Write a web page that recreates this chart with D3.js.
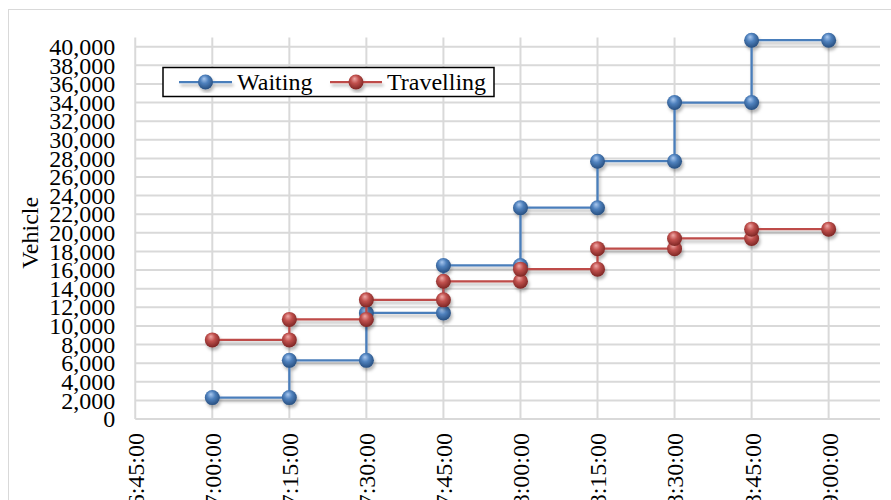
<!DOCTYPE html>
<html>
<head>
<meta charset="utf-8">
<script src="https://cdn.jsdelivr.net/npm/d3@7"></script>
<style>
  html, body { margin: 0; padding: 0; background: #fff; }
  svg { display: block; }
  text { font-family: "Liberation Serif", "Times New Roman", serif; fill: #000; }
</style>
</head>
<body>
<svg id="chart" width="891" height="500"></svg>
<script>
// Time slots (minutes after midnight) and their labels
const times = [420, 435, 450, 465, 480, 495, 510, 525];
const tickTimes = [405, 420, 435, 450, 465, 480, 495, 510, 525, 540];
const tickLabels = ["6:45:00", "7:00:00", "7:15:00", "7:30:00", "7:45:00",
                    "8:00:00", "8:15:00", "8:30:00", "8:45:00", "9:00:00"];
const endTime = 540;

// Cumulative vehicles per interval
const waiting    = [2300, 6300, 11400, 16500, 22700, 27700, 34000, 40700];
const travelling = [8500, 10700, 12800, 14800, 16100, 18300, 19400, 20400];

const yTicks = d3.range(0, 40001, 2000);

const svg = d3.select("#chart");

const x = d3.scaleLinear().domain([405, 550]).range([135.25, 880]);
const y = d3.scaleLinear().domain([0, 41000]).range([419, 37.4]);

// Outer chart border
svg.append("rect")
  .attr("x", 8.5).attr("y", 9.5).attr("width", 900).attr("height", 520)
  .attr("fill", "#fff").attr("stroke", "#d9d9d9").attr("stroke-width", 1);

const defs = svg.append("defs");

// Glossy sphere fills for the markers
function sphere(id, light, mid, dark) {
  const g = defs.append("radialGradient").attr("id", id)
    .attr("cx", "45%").attr("cy", "40%").attr("r", "60%")
    .attr("fx", "40%").attr("fy", "28%");
  g.append("stop").attr("offset", "0%").attr("stop-color", light);
  g.append("stop").attr("offset", "45%").attr("stop-color", mid);
  g.append("stop").attr("offset", "100%").attr("stop-color", dark);
}
sphere("ballBlue", "#a9c8ef", "#4f81bd", "#274f80");
sphere("ballRed", "#f0a9a7", "#c0504d", "#7e2624");

const shadow = defs.append("filter").attr("id", "shadow")
  .attr("x", "-20%").attr("y", "-20%").attr("width", "140%").attr("height", "140%");
shadow.append("feDropShadow").attr("dx", 1.5).attr("dy", 3)
  .attr("stdDeviation", 1.6).attr("flood-color", "#000").attr("flood-opacity", 0.28);

// Gridlines
const grid = svg.append("g").attr("stroke", "#d9d9d9").attr("stroke-width", 2);
grid.selectAll("line.h").data(yTicks).join("line")
  .attr("x1", x(405)).attr("x2", x(550))
  .attr("y1", d => y(d)).attr("y2", d => y(d));
grid.selectAll("line.v").data(tickTimes).join("line")
  .attr("x1", d => x(d)).attr("x2", d => x(d))
  .attr("y1", y(41000)).attr("y2", y(0));

// Y axis labels
const yAxis = d3.axisLeft(y).tickValues(yTicks).tickSize(0).tickPadding(20)
  .tickFormat(d3.format(","));
const yg = svg.append("g").attr("transform", `translate(${x(405)},0)`).call(yAxis);
yg.select(".domain").remove();
yg.selectAll("text").attr("font-size", 24)
  .attr("font-family", "'Liberation Serif', 'Times New Roman', serif").attr("fill", "#000");

// X axis labels (rotated)
const xAxis = d3.axisBottom(x).tickValues(tickTimes).tickSize(0)
  .tickFormat((d, i) => tickLabels[i]);
const xg = svg.append("g").attr("transform", `translate(0,${y(0)})`).call(xAxis);
xg.select(".domain").remove();
xg.selectAll("text")
  .attr("font-size", 24)
  .attr("font-family", "'Liberation Serif', 'Times New Roman', serif").attr("fill", "#000")
  .attr("text-anchor", "end")
  .attr("transform", "rotate(-90)")
  .attr("x", -14).attr("y", 0).attr("dy", "0.35em");

// Axis title
svg.append("text")
  .attr("transform", `translate(38,${(y(0) + y(40000)) / 2}) rotate(-90)`)
  .attr("text-anchor", "middle").attr("font-size", 24).text("Vehicle");

// Step series: each value holds until the next slot
function stepPoints(vals) {
  const pts = [];
  vals.forEach((v, i) => {
    pts.push([times[i], v]);
    pts.push([i < vals.length - 1 ? times[i + 1] : endTime, v]);
  });
  return pts;
}

const line = d3.line().x(d => x(d[0])).y(d => y(d[1]));

const series = [
  { name: "Waiting", values: waiting, color: "#4a7ebb", fill: "url(#ballBlue)" },
  { name: "Travelling", values: travelling, color: "#be4b48", fill: "url(#ballRed)" }
];

series.forEach(s => {
  const pts = stepPoints(s.values);
  const g = svg.append("g").attr("filter", "url(#shadow)");
  g.append("path").datum(pts)
    .attr("fill", "none").attr("stroke", s.color).attr("stroke-width", 2.25)
    .attr("d", line);
  g.selectAll("circle").data(pts).join("circle")
    .attr("cx", d => x(d[0])).attr("cy", d => y(d[1])).attr("r", 7.5)
    .attr("fill", s.fill);
});

// Legend
const lg = svg.append("g");
lg.append("rect").attr("x", 163).attr("y", 67.5).attr("width", 331).attr("height", 29)
  .attr("fill", "#fff").attr("stroke", "#000").attr("stroke-width", 1.5);
const legendItems = [
  { s: series[0], x0: 179, x1: 232, tx: 237 },
  { s: series[1], x0: 330, x1: 382, tx: 387 }
];
legendItems.forEach(it => {
  const g = lg.append("g");
  const gs = g.append("g").attr("filter", "url(#shadow)");
  gs.append("line").attr("x1", it.x0).attr("x2", it.x1).attr("y1", 82).attr("y2", 82)
    .attr("stroke", it.s.color).attr("stroke-width", 2.25);
  gs.append("circle").attr("cx", (it.x0 + it.x1) / 2).attr("cy", 82).attr("r", 7.5)
    .attr("fill", it.s.fill);
  g.append("text").attr("x", it.tx).attr("y", 82).attr("dy", "0.35em")
    .attr("font-size", 24).text(it.s.name);
});
</script>
</body>
</html>
